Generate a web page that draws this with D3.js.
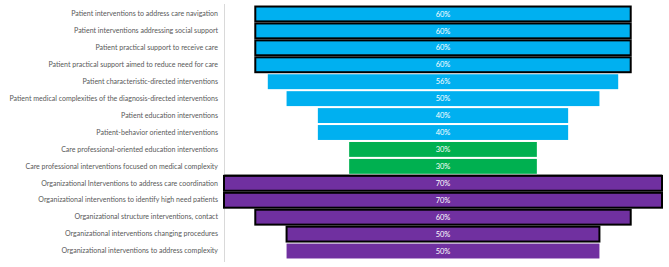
<!DOCTYPE html>
<html><head><meta charset="utf-8">
<script src="https://cdn.jsdelivr.net/npm/d3@7"></script>
<style>body{margin:0;background:#fff}svg{display:block}</style>
</head><body>
<script>
const categories = [
  "Patient interventions to address care navigation",
  "Patient interventions addressing social support",
  "Patient practical support to receive care",
  "Patient practical support aimed to reduce need for care",
  "Patient characteristic-directed interventions",
  "Patient medical complexities of the diagnosis-directed interventions",
  "Patient education interventions",
  "Patient-behavior oriented interventions",
  "Care professional-oriented education interventions",
  "Care professional interventions focused on medical complexity",
  "Organizational Interventions to address care coordination",
  "Organizational interventions to identify high need patients",
  "Organizational structure interventions, contact",
  "Organizational interventions changing procedures",
  "Organizational interventions to address complexity"
];
const values = [60,60,60,60,56,50,40,40,30,30,70,70,60,50,50];
const groups = ["patient","patient","patient","patient","patient","patient","patient","patient","care","care","org","org","org","org","org"];
const highlighted = [true,true,true,true,false,false,false,false,false,false,true,true,true,true,false];
const colors = {patient:"#00B0F0", care:"#00B050", org:"#7030A0"};

const W=669,H=267;
const svg=d3.select("body").append("svg").attr("width",W).attr("height",H);
const x=d3.scaleLinear().domain([-35,35]).range([224,662]);
const y=d3.scaleBand().domain(categories).range([5.5,259.5]).paddingInner(0.12).paddingOuter(0.06);

// axis lines
svg.append("line").attr("x1",224.5).attr("x2",224.5).attr("y1",4).attr("y2",262).attr("stroke","#d9d9d9").attr("stroke-width",1);
svg.append("line").attr("x1",224).attr("x2",662).attr("y1",174.5).attr("y2",174.5).attr("stroke","#a6a6a6").attr("stroke-width",1);

const rows=categories.map((c,i)=>({c,v:values[i],g:groups[i],h:highlighted[i]}));
svg.selectAll("rect.bar").data(rows).enter().append("rect")
  .attr("x",d=>x(-d.v/2)).attr("width",d=>x(d.v/2)-x(-d.v/2))
  .attr("y",d=>y(d.c)).attr("height",y.bandwidth())
  .attr("fill",d=>colors[d.g])
  .attr("stroke",d=>d.h?"#000":"none").attr("stroke-width",2);

svg.selectAll("text.val").data(rows).enter().append("text")
  .attr("x",x(0)).attr("y",d=>y(d.c)+y.bandwidth()/2)
  .attr("dy","0.35em").attr("text-anchor","middle")
  .attr("fill","#fff").attr("font-family","Lato, sans-serif").attr("font-size",7.5)
  .text(d=>d.v+"%");

const yAxis=d3.axisLeft(y).tickSize(0).tickPadding(6);
const ax=svg.append("g").attr("transform","translate(224,0)").call(yAxis);
ax.select(".domain").remove();
const labels=ax.selectAll("text").attr("fill","#595959").attr("font-family","Lato, sans-serif").attr("font-size",9);
let maxLen=0;
labels.each(function(){maxLen=Math.max(maxLen,this.getComputedTextLength());});
labels.attr("font-size",9*209/maxLen);
</script>
</body></html>
